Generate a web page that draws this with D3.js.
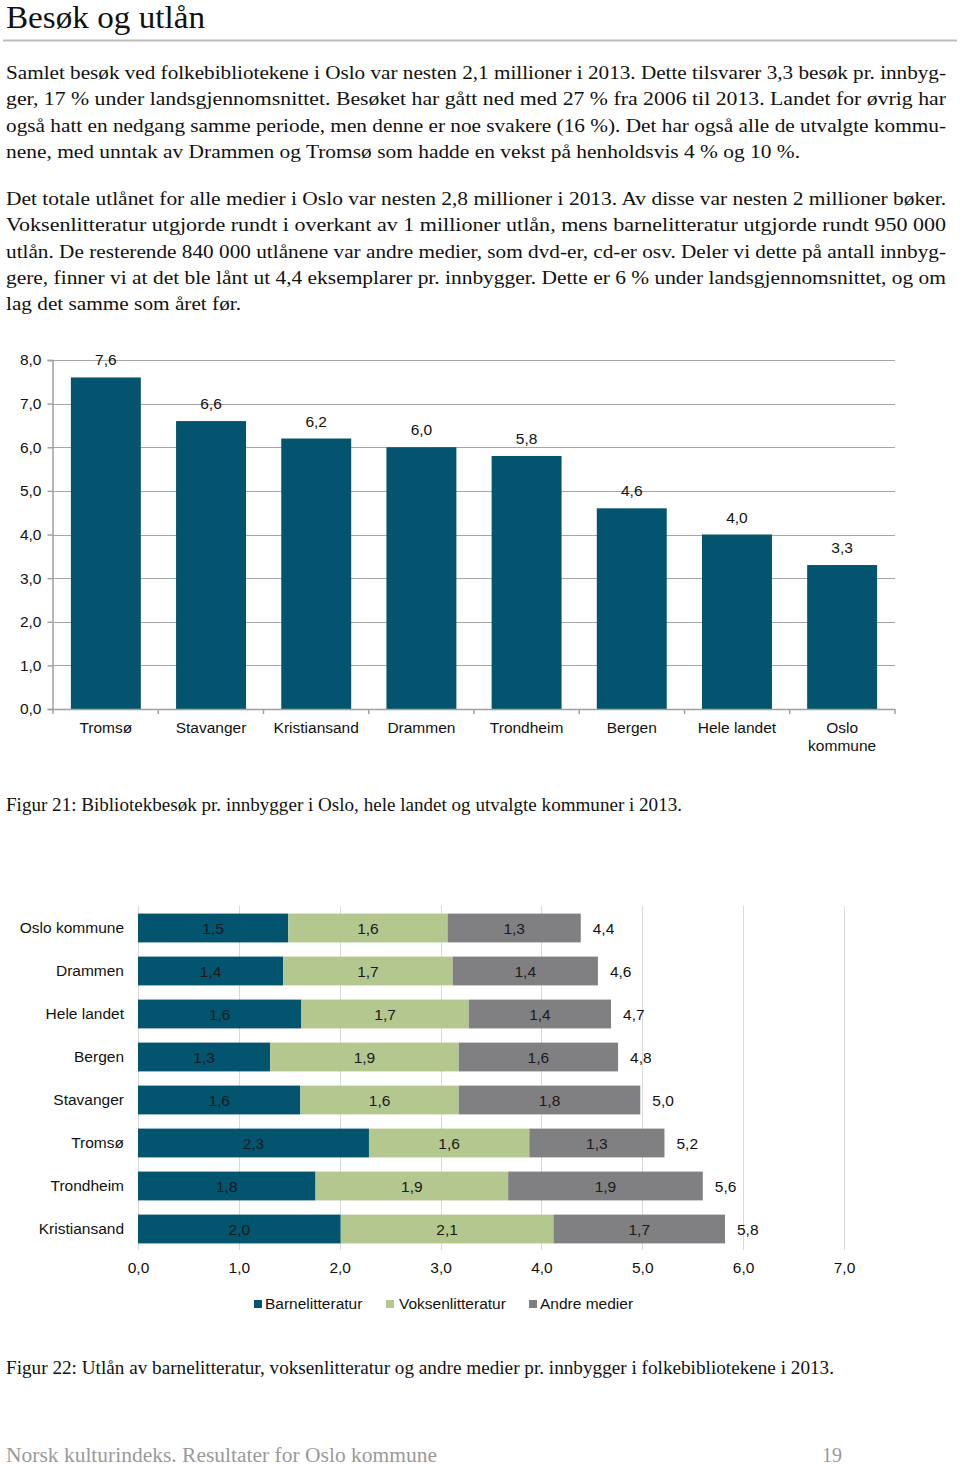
<!DOCTYPE html>
<html>
<head>
<meta charset="utf-8">
<script src="https://cdn.jsdelivr.net/npm/d3@7"></script>
<style>
  html, body { margin: 0; padding: 0; background: #fff; }
  svg { display: block; }
  .serif { font-family: "Liberation Serif", "DejaVu Serif", serif; fill: #111; }
  .sans { font-family: "Liberation Sans", Arial, sans-serif; fill: #111; }
</style>
</head>
<body>
<svg id="page" width="960" height="1466"></svg>
<script>
// ---------- Data ----------
const titleText = "Besøk og utlån";
const paragraph1 = [
  "Samlet besøk ved folkebibliotekene i Oslo var nesten 2,1 millioner i 2013. Dette tilsvarer 3,3 besøk pr. innbyg-",
  "ger, 17 % under landsgjennomsnittet. Besøket har gått ned med 27 % fra 2006 til 2013. Landet for øvrig har",
  "også hatt en nedgang samme periode, men denne er noe svakere (16 %). Det har også alle de utvalgte kommu-",
  "nene, med unntak av Drammen og Tromsø som hadde en vekst på henholdsvis 4 % og 10 %."
];
const paragraph2 = [
  "Det totale utlånet for alle medier i Oslo var nesten 2,8 millioner i 2013. Av disse var nesten 2 millioner bøker.",
  "Voksenlitteratur utgjorde rundt i overkant av 1 millioner utlån, mens barnelitteratur utgjorde rundt 950 000",
  "utlån. De resterende 840 000 utlånene var andre medier, som dvd-er, cd-er osv. Deler vi dette på antall innbyg-",
  "gere, finner vi at det ble lånt ut 4,4 eksemplarer pr. innbygger. Dette er 6 % under landsgjennomsnittet, og om",
  "lag det samme som året før."
];
const caption1 = "Figur 21: Bibliotekbesøk pr. innbygger i Oslo, hele landet og utvalgte kommuner i 2013.";
const caption2 = "Figur 22: Utlån av barnelitteratur, voksenlitteratur og andre medier pr. innbygger i folkebibliotekene i 2013.";
const footerText = "Norsk kulturindeks. Resultater for Oslo kommune";
const pageNumber = "19";

// Chart 1: visits per inhabitant
const visitCategories = ["Tromsø", "Stavanger", "Kristiansand", "Drammen", "Trondheim", "Bergen", "Hele landet", "Oslo kommune"];
const visitLabels = ["Tromsø", "Stavanger", "Kristiansand", "Drammen", "Trondheim", "Bergen", "Hele landet", "Oslo\nkommune"];
const visitValues = [7.6, 6.6, 6.2, 6.0, 5.8, 4.6, 4.0, 3.3];
const visitTicks = [0, 1, 2, 3, 4, 5, 6, 7, 8];

// Chart 2: loans per inhabitant (stacked)
const loanCategories = ["Oslo kommune", "Drammen", "Hele landet", "Bergen", "Stavanger", "Tromsø", "Trondheim", "Kristiansand"];
const barnelitteratur = [1.49, 1.44, 1.62, 1.31, 1.61, 2.29, 1.76, 2.01];
const voksenlitteratur = [1.58, 1.68, 1.66, 1.87, 1.57, 1.59, 1.91, 2.11];
const andreMedier = [1.32, 1.44, 1.41, 1.58, 1.80, 1.34, 1.93, 1.70];
const seriesNames = ["Barnelitteratur", "Voksenlitteratur", "Andre medier"];
const loanTicks = [0, 1, 2, 3, 4, 5, 6, 7];

// ---------- Styles ----------
const colors = ["#03546e", "#b3c78f", "#808083"];
const fmt = v => d3.format(".1f")(v).replace(".", ",");

const svg = d3.select("#page");

// ---------- Text ----------
svg.append("text").attr("class", "serif").attr("x", 6).attr("y", 28)
  .attr("font-size", 32).attr("textLength", 199).attr("lengthAdjust", "spacingAndGlyphs").text(titleText);
svg.append("line").attr("x1", 3).attr("x2", 957).attr("y1", 40.5).attr("y2", 40.5)
  .attr("stroke", "#bdbdbd").attr("stroke-width", 2);

function paragraph(lines, y0, lastWidth) {
  lines.forEach((t, i) => {
    const el = svg.append("text").attr("class", "serif").attr("x", 6)
      .attr("y", y0 + i * 26.3).attr("font-size", 19.5).text(t);
    const w = (i === lines.length - 1) ? lastWidth : 940;
    el.attr("textLength", w).attr("lengthAdjust", "spacingAndGlyphs");
  });
}
paragraph(paragraph1, 79, 794);
paragraph(paragraph2, 205, 235);

svg.append("text").attr("class", "serif").attr("x", 6).attr("y", 811)
  .attr("font-size", 18.5).attr("textLength", 676).attr("lengthAdjust", "spacingAndGlyphs").text(caption1);
svg.append("text").attr("class", "serif").attr("x", 6).attr("y", 1374)
  .attr("font-size", 18.5).attr("textLength", 828).attr("lengthAdjust", "spacingAndGlyphs").text(caption2);

svg.append("text").attr("class", "serif").attr("x", 6).attr("y", 1462)
  .attr("font-size", 20).style("fill", "#9a9a9a")
  .attr("textLength", 431).attr("lengthAdjust", "spacingAndGlyphs").text(footerText);
svg.append("text").attr("class", "serif").attr("x", 822).attr("y", 1462)
  .attr("font-size", 20).style("fill", "#9a9a9a").text(pageNumber);

// ---------- Chart 1 ----------
{
  const x = d3.scaleBand().domain(visitCategories).range([53, 895]).paddingInner(0.335).paddingOuter(0.17);
  const y = d3.scaleLinear().domain([0, 8]).range([709, 360]);
  const g = svg.append("g");

  // gridlines
  g.selectAll(".grid").data(visitTicks.filter(d => d > 0)).join("line")
    .attr("x1", 52).attr("x2", 895)
    .attr("y1", d => Math.round(y(d)) + 0.5).attr("y2", d => Math.round(y(d)) + 0.5)
    .attr("stroke", "#a6a6a6").attr("stroke-width", 1.2);

  // bars
  g.selectAll(".bar").data(visitValues).join("rect")
    .attr("x", (d, i) => x(visitCategories[i]))
    .attr("width", x.bandwidth())
    .attr("y", d => y(d))
    .attr("height", d => y(0) - y(d))
    .attr("fill", colors[0]);

  // value labels
  g.selectAll(".val").data(visitValues).join("text").attr("class", "sans")
    .attr("x", (d, i) => x(visitCategories[i]) + x.bandwidth() / 2)
    .attr("y", d => y(d) - 12)
    .attr("text-anchor", "middle").attr("font-size", 15.5)
    .text(d => fmt(d));

  // y axis
  const yAxis = g.append("g").attr("transform", "translate(52.5,0)")
    .call(d3.axisLeft(y).tickValues(visitTicks).tickFormat(fmt).tickSize(5).tickPadding(6));
  yAxis.select(".domain").attr("stroke", "#a0a0a0").attr("stroke-width", 1.5);
  yAxis.selectAll(".tick line").attr("stroke", "#a0a0a0").attr("stroke-width", 1.5);
  yAxis.selectAll(".tick text").attr("font-family", "Liberation Sans, Arial, sans-serif")
    .attr("font-size", 15.5).attr("fill", "#111");

  // x axis baseline + ticks at band boundaries
  const bounds = d3.range(visitCategories.length + 1).map(i => 53 + i * (842 / visitCategories.length));
  g.append("line").attr("x1", 52).attr("x2", 895).attr("y1", 709.5).attr("y2", 709.5)
    .attr("stroke", "#a0a0a0").attr("stroke-width", 1.5);
  g.selectAll(".xt").data(bounds).join("line")
    .attr("x1", d => d).attr("x2", d => d).attr("y1", 709).attr("y2", 714)
    .attr("stroke", "#a0a0a0").attr("stroke-width", 1.5);

  // category labels
  g.selectAll(".cat").data(visitLabels).join("text").attr("class", "sans")
    .attr("text-anchor", "middle").attr("font-size", 15.5)
    .each(function(d, i) {
      const cx = x(visitCategories[i]) + x.bandwidth() / 2;
      d.split("\n").forEach((part, j) => {
        d3.select(this).append("tspan").attr("x", cx).attr("y", 733 + j * 18).text(part);
      });
    });
}

// ---------- Chart 2 ----------
{
  const x = d3.scaleLinear().domain([0, 7]).range([138, 844]);
  const y = d3.scaleBand().domain(loanCategories).range([906.5, 1250.5]).paddingInner(0.33).paddingOuter(0.165);
  const g = svg.append("g");

  // gridlines
  g.selectAll(".grid").data(loanTicks).join("line")
    .attr("x1", d => Math.round(x(d)) + 0.5).attr("x2", d => Math.round(x(d)) + 0.5)
    .attr("y1", 906).attr("y2", 1250)
    .attr("stroke", "#d9d9d9").attr("stroke-width", 1);

  const rows = loanCategories.map((c, i) => ({
    cat: c, vals: [barnelitteratur[i], voksenlitteratur[i], andreMedier[i]]
  }));
  const stack = d3.stack().keys([0, 1, 2]).value((d, k) => d.vals[k]);
  const stacked = stack(rows);

  stacked.forEach((layer, k) => {
    g.selectAll(".seg" + k).data(layer).join("rect")
      .attr("x", d => x(d[0]))
      .attr("width", d => x(d[1]) - x(d[0]))
      .attr("y", d => y(d.data.cat))
      .attr("height", y.bandwidth())
      .attr("fill", colors[k]);
    g.selectAll(".lab" + k).data(layer).join("text").attr("class", "sans")
      .attr("x", d => (x(d[0]) + x(d[1])) / 2)
      .attr("y", d => y(d.data.cat) + y.bandwidth() / 2 + 5.5)
      .attr("text-anchor", "middle").attr("font-size", 15.5)
      .style("fill", "#1a1a1a")
      .text(d => fmt(d.data.vals[k]));
  });

  // totals
  g.selectAll(".tot").data(rows).join("text").attr("class", "sans")
    .attr("x", d => x(d3.sum(d.vals)) + 12)
    .attr("y", d => y(d.cat) + y.bandwidth() / 2 + 5.5)
    .attr("font-size", 15.5)
    .text(d => fmt(d3.sum(d.vals)));

  // y labels
  const yAxis = g.append("g").attr("transform", "translate(138,0)")
    .call(d3.axisLeft(y).tickSize(0).tickPadding(14));
  yAxis.select(".domain").remove();
  yAxis.selectAll(".tick text").attr("font-family", "Liberation Sans, Arial, sans-serif")
    .attr("font-size", 15.5).attr("fill", "#111");

  // x axis labels
  const xAxis = g.append("g").attr("transform", "translate(0,1250)")
    .call(d3.axisBottom(x).tickValues(loanTicks).tickFormat(fmt).tickSize(0).tickPadding(12));
  xAxis.select(".domain").remove();
  xAxis.selectAll(".tick text").attr("font-family", "Liberation Sans, Arial, sans-serif")
    .attr("font-size", 15.5).attr("fill", "#111");

  // legend
  const legendX = [254, 386, 529];
  const lg = g.selectAll(".leg").data(seriesNames).join("g")
    .attr("transform", (d, i) => `translate(${legendX[i]},1300)`);
  lg.append("rect").attr("width", 8).attr("height", 8).attr("fill", (d, i) => colors[i]);
  lg.append("text").attr("class", "sans").attr("x", (d, i) => i === 1 ? 13 : 11).attr("y", 9)
    .attr("font-size", 15.5).text(d => d);
}
</script>
</body>
</html>
